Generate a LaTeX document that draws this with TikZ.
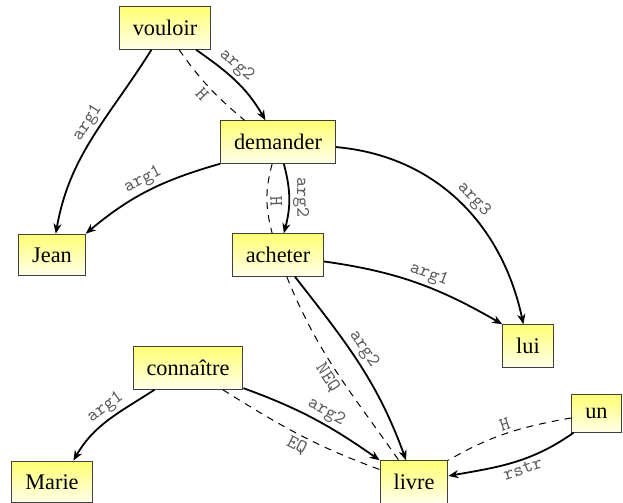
\documentclass[tikz,border=0pt]{standalone}
\usepackage{fontspec}
\setmainfont{Liberation Serif}
\usetikzlibrary{arrows.meta}

\tikzset{
  word/.style={rectangle, draw=black!75, line width=0.5pt, top color=yellow!55, bottom color=yellow!8,
    inner sep=6.7pt, font=\fontsize{11.15}{13}\selectfont},
  rel/.style={sloped, inner sep=1.5pt, text=black!65, font=\ttfamily\fontsize{9.5}{10}\selectfont},
  arc/.style={-{Stealth[length=5pt, width=4pt, inset=1.5pt]}, line width=0.9pt},
  link/.style={dash pattern=on 3.5pt off 3pt, line width=0.5pt},
}

\begin{document}
\begin{tikzpicture}[x=0.5pt, y=0.5pt]
    \useasboundingbox (0,0) rectangle (623,-503);

    % Nodes
    \node[word] (vouloir) at (165,-28) {vouloir};
    \node[word] (demander) at (278,-142) {demander};
    \node[word] (Jean) at (52,-255) {Jean};
    \node[word] (acheter) at (278,-255) {acheter};
    \node[word] (lui) at (528,-346) {lui};
    \node[word] (connaitre) at (188,-368) {connaître};
    \node[word] (Marie) at (52,-482) {Marie};
    \node[word] (livre) at (414,-482) {livre};
    \node[word] (un) at (596.5,-413.5) {un};

    % Arguments
    \draw[arc] (vouloir) to[out=-122, in=80] node[rel, pos=0.45, above] {arg1} (Jean);
    \draw[arc] (vouloir) to[out=-35, in=120] node[rel, pos=0.4, above] {arg2} (demander);
    \draw[arc] (demander.south west) to[out=196, in=40] node[rel, pos=0.5, above] {arg1} (Jean.north east);
    \draw[arc] (demander) to[out=-75, in=75] node[rel, pos=0.48, above] {arg2} (acheter);
    \draw[arc] (demander) to[out=-5, in=102] node[rel, pos=0.53, above] {arg3} (lui);
    \draw[arc] (acheter) to[out=-8, in=150] node[rel, pos=0.55, above] {arg1} (lui.north west);
    \draw[arc] (acheter) to[out=-52, in=110] node[rel, pos=0.45, above] {arg2} (livre);
    \draw[arc] (connaitre) to[out=-20, in=145] node[rel, pos=0.55, above] {arg2} (livre.north west);
    \draw[arc] (connaitre) to[out=213, in=60] node[rel, pos=0.45, above] {arg1} (Marie.45);
    \draw[arc] (un.220) to[out=215, in=10] node[rel, pos=0.45, below] {rstr} (livre);

    % Scope links (dashed)
    \draw[link] (vouloir.-57) to[out=-55, in=140] node[rel, pos=0.5, below] {H} (demander.147);
    \draw[link] (demander) to[out=-105, in=105] node[rel, pos=0.55, above] {H} (acheter);
    \draw[link] (acheter) to[out=-68, in=125] node[rel, pos=0.5, below] {NEQ} (livre);
    \draw[link] (connaitre) to[out=-32, in=160] node[rel, pos=0.52, below] {EQ} (livre);
    \draw[link] (un) to[out=190, in=30] node[rel, pos=0.5, above] {H} (livre.north east);
\end{tikzpicture}
\end{document}
